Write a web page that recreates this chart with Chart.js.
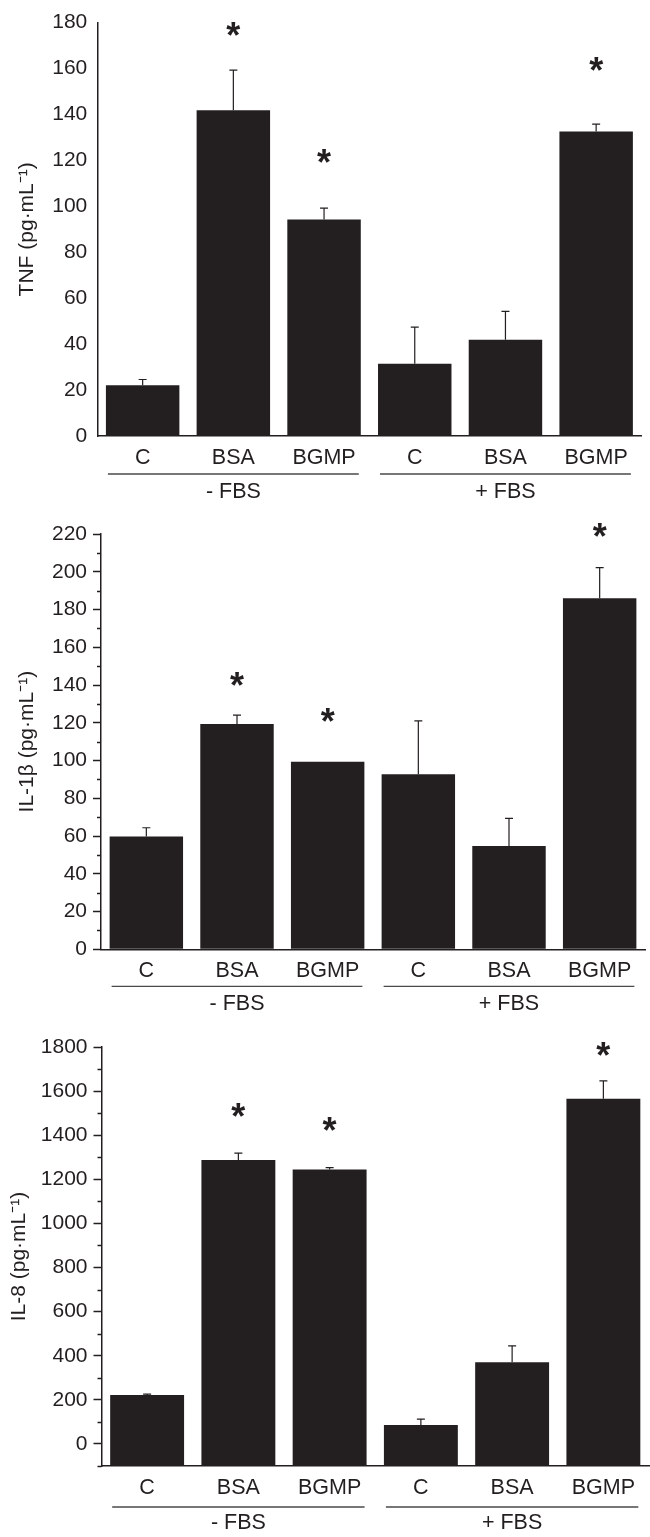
<!DOCTYPE html>
<html>
<head>
<meta charset="utf-8">
<script src="https://cdn.jsdelivr.net/npm/chart.js@4.4.1/dist/chart.umd.min.js"></script>
<style>
  body { margin: 0; background: #fff; }
  #wrap { position: relative; width: 650px; height: 1537px; }
  canvas { position: absolute; left: 0; }
</style>
</head>
<body>
<div id="wrap">
  <canvas id="tnf" width="650" height="510" style="top:0"></canvas>
  <canvas id="il1b" width="650" height="510" style="top:510px"></canvas>
  <canvas id="il8" width="650" height="517" style="top:1020px"></canvas>
</div>
<script>
const categories = ['C', 'BSA', 'BGMP', 'C', 'BSA', 'BGMP'];
const groupLabels = ['- FBS', '+ FBS'];

const tnfValues = [22.1, 141.8, 94.3, 31.5, 41.9, 132.6];
const tnfErrors = [2.5, 17.5, 4.9, 15.9, 12.4, 3.2];
const tnfStars = [null, 177, 122, null, null, 162];
const tnfTicks = [0, 20, 40, 60, 80, 100, 120, 140, 160, 180];

const il1bValues = [59.7, 119.4, 99.4, 92.7, 54.7, 185.9];
const il1bErrors = [4.7, 4.7, 0, 28.3, 14.7, 16.3];
const il1bStars = [null, 143, 124, null, null, 222];
const il1bTicks = [0, 20, 40, 60, 80, 100, 120, 140, 160, 180, 200, 220];
const il1bMinorTicks = [10, 30, 50, 70, 90, 110, 130, 150, 170, 190, 210];

const il8Values = [222, 1288, 1245, 86, 371, 1565];
const il8Errors = [4, 31, 8, 27, 74, 81];
const il8Stars = [null, 1515, 1452, null, null, 1789];
const il8Ticks = [0, 200, 400, 600, 800, 1000, 1200, 1400, 1600, 1800];
const il8MinorTicks = [-100, 100, 300, 500, 700, 900, 1100, 1300, 1500, 1700];

const INK = '#231f20';
const FONT = '"Liberation Sans", Arial, Helvetica, sans-serif';

// error bars, significance stars, minor y ticks and the -FBS / +FBS brackets
const decorPlugin = {
  id: 'decor',
  afterDatasetsDraw(chart, args, opts) {
    const ctx = chart.ctx;
    const yScale = chart.scales.y;
    const meta = chart.getDatasetMeta(0);
    const values = chart.data.datasets[0].data;

    ctx.save();
    ctx.strokeStyle = INK;
    ctx.lineWidth = 1.2;
    meta.data.forEach((bar, i) => {
      const err = opts.errors[i];
      if (!err) return;
      const top = yScale.getPixelForValue(values[i] + err);
      ctx.beginPath();
      ctx.moveTo(bar.x, bar.y);
      ctx.lineTo(bar.x, top);
      ctx.moveTo(bar.x - 4, top);
      ctx.lineTo(bar.x + 4, top);
      ctx.stroke();
    });

    ctx.fillStyle = INK;
    ctx.font = 'bold 36px ' + FONT;
    ctx.textAlign = 'center';
    ctx.textBaseline = 'alphabetic';
    const m = ctx.measureText('*');
    meta.data.forEach((bar, i) => {
      const s = opts.stars[i];
      if (s == null) return;
      const yc = yScale.getPixelForValue(s);
      const base = yc + (m.actualBoundingBoxAscent - m.actualBoundingBoxDescent) / 2;
      ctx.fillText('*', bar.x, base);
    });
    ctx.restore();
  },
  afterDraw(chart, args, opts) {
    const ctx = chart.ctx;
    const yScale = chart.scales.y;
    const area = chart.chartArea;
    const meta = chart.getDatasetMeta(0);

    ctx.save();
    ctx.strokeStyle = INK;
    ctx.lineWidth = 1.5;
    (opts.minor || []).forEach(v => {
      const py = Math.round(yScale.getPixelForValue(v)) + 0.5;
      ctx.beginPath();
      ctx.moveTo(area.left - 4, py);
      ctx.lineTo(area.left, py);
      ctx.stroke();
    });

    ctx.strokeStyle = '#4a4a4a';
    ctx.lineWidth = 1.3;
    ctx.fillStyle = INK;
    ctx.font = '21.5px ' + FONT;
    ctx.textAlign = 'center';
    ctx.textBaseline = 'middle';
    groupLabels.forEach((label, g) => {
      const first = meta.data[g * 3];
      const mid = meta.data[g * 3 + 1];
      const last = meta.data[g * 3 + 2];
      const ly = area.bottom + opts.lineOffset;
      ctx.beginPath();
      ctx.moveTo(first.x - first.width / 2 + 2, ly);
      ctx.lineTo(last.x + last.width / 2 - 2, ly);
      ctx.stroke();
      ctx.fillText(label, mid.x, area.bottom + opts.textOffset);
    });
    ctx.restore();
  }
};

function makeChart(id, cfg) {
  const tickLen = cfg.tickLen || 0;
  return new Chart(document.getElementById(id), {
    type: 'bar',
    data: {
      labels: categories,
      datasets: [{
        data: cfg.values,
        base: cfg.min,
        backgroundColor: INK,
        borderWidth: 0,
        barPercentage: 0.81,
        categoryPercentage: 1,
      }],
    },
    options: {
      responsive: false,
      animation: false,
      devicePixelRatio: 1,
      layout: { padding: cfg.padding },
      plugins: {
        legend: { display: false },
        tooltip: { enabled: false },
        decor: {
          errors: cfg.errors,
          stars: cfg.stars,
          minor: cfg.minor,
          lineOffset: cfg.lineOffset,
          textOffset: cfg.textOffset,
        },
      },
      scales: {
        x: {
          grid: { display: false },
          border: { display: true, color: INK, width: 1.5 },
          ticks: { color: INK, font: { family: FONT, size: 21.5 }, padding: 1, maxRotation: 0 },
          afterFit(scale) { scale.height = cfg.xHeight; },
        },
        y: {
          min: cfg.min,
          max: cfg.max,
          afterBuildTicks(scale) { scale.ticks = cfg.ticks.map(v => ({ value: v })); },
          afterFit(scale) { scale.width = cfg.yWidth; },
          grid: {
            display: tickLen > 0,
            drawOnChartArea: false,
            drawTicks: tickLen > 0,
            tickLength: tickLen,
            tickColor: INK,
            tickWidth: 1.5,
          },
          border: { display: true, color: INK, width: 1.5 },
          ticks: {
            color: INK,
            font: { family: FONT, size: 21 },
            padding: cfg.labelPad,
            callback: v => String(v),
          },
          title: {
            display: true,
            text: cfg.title,
            color: INK,
            font: { family: FONT, size: 21 },
            padding: { top: cfg.titlePad, bottom: 0 },
          },
        },
      },
    },
    plugins: [decorPlugin],
  });
}

makeChart('tnf', {
  values: tnfValues, errors: tnfErrors, stars: tnfStars, ticks: tnfTicks,
  min: 0, max: 180, title: 'TNF (pg·mL⁻¹)',
  padding: { top: 20.5, right: 8.5, left: 0, bottom: 0 },
  xHeight: 74, yWidth: 97.3, tickLen: 0, labelPad: 10, titlePad: 15,
  lineOffset: 38, textOffset: 56,
});

makeChart('il1b', {
  values: il1bValues, errors: il1bErrors, stars: il1bStars, ticks: il1bTicks, minor: il1bMinorTicks,
  min: 0, max: 220, title: 'IL-1β (pg·mL⁻¹)',
  padding: { top: 24, right: 5, left: 0, bottom: 0 },
  xHeight: 70.7, yWidth: 101, tickLen: 8, labelPad: 6, titlePad: 15,
  lineOffset: 37, textOffset: 55,
});

makeChart('il8', {
  values: il8Values, errors: il8Errors, stars: il8Stars, ticks: il8Ticks, minor: il8MinorTicks,
  min: -100, max: 1800, title: 'IL-8 (pg·mL⁻¹)',
  padding: { top: 27, right: 1, left: 0, bottom: 0 },
  xHeight: 71, yWidth: 101.5, tickLen: 8, labelPad: 6, titlePad: 7,
  lineOffset: 41, textOffset: 57,
});
</script>
</body>
</html>
